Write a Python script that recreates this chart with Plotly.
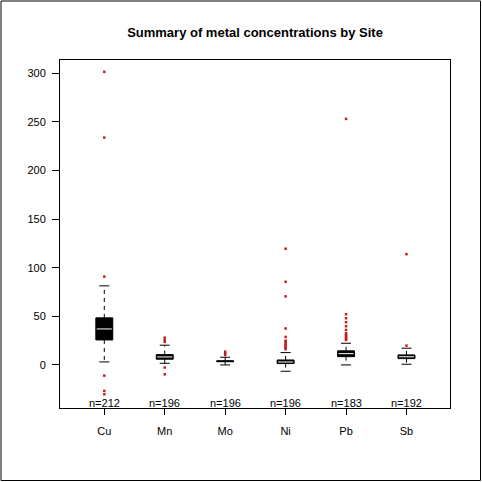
import plotly.graph_objects as go

# ---- data ----
categories = ["Cu", "Mn", "Mo", "Ni", "Pb", "Sb"]
n_counts = [212, 196, 196, 196, 183, 192]
q1 = [25.7, 5.9, 3.3, 1.4, 8.5, 6.5]
median = [37.0, 8.2, 3.8, 3.0, 11.6, 8.4]
q3 = [48.4, 10.6, 4.3, 5.1, 14.5, 10.3]
lower_whisker = [3.1, 1.7, 0.0, -6.5, 0.0, 0.7]
upper_whisker = [81.3, 20.3, 7.9, 12.7, 22.3, 17.2]
outliers = {
    "Cu": [301.4, 233.8, 90.8, -11.0, -26.7, -30.1],
    "Mn": [28.1, 25.7, 23.7, -2.7, -9.6],
    "Mo": [13.7, 12.0, 10.3],
    "Ni": [119.5, 85.5, 70.5, 37.5, 28.8, 25.0, 23.5, 22.0, 20.5, 19.0, 17.5, 16.2],
    "Pb": [253.0, 52.1, 48.0, 43.9, 39.8, 36.0, 32.6, 31.0, 29.5, 28.0, 26.7, 25.7],
    "Sb": [113.9, 19.9],
}
y_ticks = [0, 50, 100, 150, 200, 250, 300]

# ---- geometry / style ----
W, H = 482, 482
ML, MR, MT, MB = 60, 32, 60, 74
BOX_W = 0.28
CAP_HALF = 0.083
MED_HALF = 0.125
RED = "#C42020"
FONT = "Liberation Sans, Arial, sans-serif"

xs = list(range(len(categories)))
fig = go.Figure()

# boxes (no whiskers from the box trace itself)
fig.add_trace(go.Box(
    x=xs, q1=q1, median=median, q3=q3,
    lowerfence=q1, upperfence=q3,
    width=BOX_W, whiskerwidth=0,
    fillcolor="black", line=dict(color="black", width=1),
    boxpoints=False, hoverinfo="skip", showlegend=False,
))

# dashed whiskers
wx, wy = [], []
for i in xs:
    wx += [i, i, None, i, i, None]
    wy += [q3[i], upper_whisker[i], None, q1[i], lower_whisker[i], None]
fig.add_trace(go.Scatter(x=wx, y=wy, mode="lines",
                         line=dict(color="black", width=1, dash="4px,4px"),
                         hoverinfo="skip", showlegend=False))

# whisker caps
cx, cy = [], []
for i in xs:
    for v in (upper_whisker[i], lower_whisker[i]):
        cx += [i - CAP_HALF, i + CAP_HALF, None]
        cy += [v, v, None]
fig.add_trace(go.Scatter(x=cx, y=cy, mode="lines",
                         line=dict(color="black", width=1),
                         hoverinfo="skip", showlegend=False))

# white median lines (only where the box is tall enough to show one)
mx, my = [], []
for i in xs:
    if q3[i] - q1[i] > 2:
        mx += [i - MED_HALF, i + MED_HALF, None]
        my += [median[i], median[i], None]
fig.add_trace(go.Scatter(x=mx, y=my, mode="lines",
                         line=dict(color="white", width=1),
                         hoverinfo="skip", showlegend=False))

# outliers
ox, oy = [], []
for i, c in enumerate(categories):
    ox += [i] * len(outliers[c])
    oy += outliers[c]
fig.add_trace(go.Scatter(x=ox, y=oy, mode="markers",
                         marker=dict(symbol="square", size=2.5, color=RED,
                                     line=dict(width=0)),
                         hoverinfo="skip", showlegend=False))

# n= labels along the bottom of the plot
for i, c in enumerate(categories):
    fig.add_annotation(x=i, y=0, xref="x", yref="paper", text=f"n={n_counts[i]}",
                       showarrow=False, yanchor="bottom", yshift=-3,
                       font=dict(size=11, color="black", family=FONT))

# outer frame of the whole image
pw, ph = W - ML - MR, H - MT - MB
fig.add_shape(type="rect", xref="paper", yref="paper",
              x0=(1 - ML) / pw, x1=(480.5 - ML) / pw,
              y0=(H - MB - 480.5) / ph, y1=(H - MB - 1) / ph,
              line=dict(color="black", width=1), fillcolor="rgba(0,0,0,0)")

fig.update_layout(
    width=W, height=H,
    margin=dict(l=ML, r=MR, t=MT, b=MB, pad=0),
    paper_bgcolor="white", plot_bgcolor="white",
    font=dict(family=FONT, size=11, color="black"),
    title=dict(text="<b>Summary of metal concentrations by Site</b>",
               x=(255) / W, xanchor="center", y=1 - 32 / H, yanchor="middle",
               font=dict(size=13, color="black", family=FONT)),
    xaxis=dict(range=[-0.733, 5.72], tickvals=xs, ticktext=categories,
               ticks="outside", ticklen=6, tickcolor="black", tickwidth=1,
               showline=True, linecolor="black", linewidth=1, mirror=True,
               showgrid=False, zeroline=False, ticklabelstandoff=7),
    yaxis=dict(range=[-44.3, 313.6], tickvals=y_ticks,
               ticks="outside", ticklen=7, tickcolor="black", tickwidth=1,
               showline=True, linecolor="black", linewidth=1, mirror=True,
               showgrid=False, zeroline=False, ticklabelstandoff=4),
    showlegend=False,
)

fig.write_html("out.html", config={"displayModeBar": False},
               post_script="document.body.style.margin='0';document.body.style.padding='0';")
